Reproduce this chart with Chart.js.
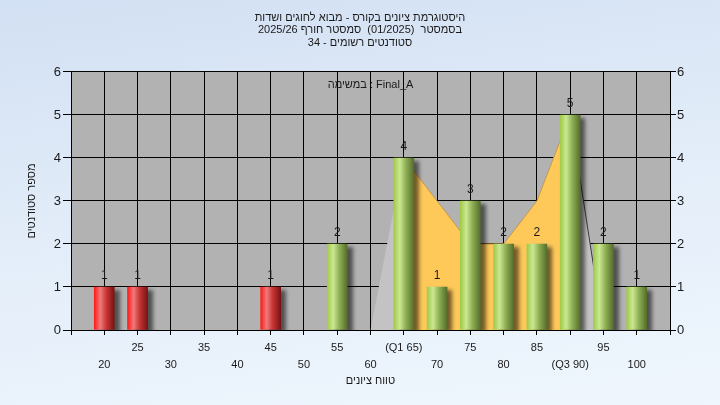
<!DOCTYPE html>
<html lang="he">
<head>
<meta charset="utf-8">
<script src="https://cdn.jsdelivr.net/npm/chart.js@4.4.1/dist/chart.umd.min.js"></script>
<style>
    html, body { margin: 0; padding: 0; }
    body {
        width: 720px; height: 405px; overflow: hidden;
        background: linear-gradient(172deg, #d2e0f3 0%, #e3edf9 50%, #eff6fd 100%);
    }
    canvas { display: block; }
</style>
</head>
<body>
<canvas id="histChart" width="720" height="405"></canvas>
<script>
// נתוני ההיסטוגרמה
const gradeBins = [20, 25, 45, 55, 65, 70, 75, 80, 85, 90, 95, 100];
const studentCounts = [1, 1, 1, 2, 4, 1, 3, 2, 2, 5, 2, 1];
const passGrade = 55;

// שטח הרקע (אפור / כתום בין הרבעונים)
const curveX = [60, 65, 70, 75, 80, 85, 90, 95];
const curveY = [0, 4, 3, 2, 2, 3, 5, 0];
const q1 = 65, q3 = 90;

// צירים ותוויות
const xMin = 15, xMax = 105, xStep = 5;
const yMin = 0, yMax = 6;
const quartileLabels = { 65: '(Q1 65)', 90: '(Q3 90)' };

const titleLines = [
    'היסטוגרמת ציונים בקורס - מבוא לחוגים ושדות',
    'בסמסטר  (01/2025)  סמסטר חורף 2025/26',
    'סטודנטים רשומים - 34'
];
const xTitle = 'טווח ציונים';
const yTitle = 'מספר סטודנטים';
const taskLabel = 'במשימה : Final_A';

const FONT = "'Liberation Sans', Arial, 'DejaVu Sans', sans-serif";
const TEXT = '#1a1a1a';

function barFill(ctx) {
    const chart = ctx.chart;
    const pt = ctx.raw;
    const pass = pt && pt.x >= passGrade;
    if (!chart.chartArea || !pt) return pass ? '#9cc450' : '#e02020';
    const cx = chart.scales.x.getPixelForValue(pt.x);
    const g = chart.ctx.createLinearGradient(cx - 10, 0, cx + 10, 0);
    if (pass) {
        g.addColorStop(0, '#a0ca48');
        g.addColorStop(0.3, '#cbe792');
        g.addColorStop(0.6, '#8fb055');
        g.addColorStop(1, '#566e2c');
    } else {
        g.addColorStop(0, '#ff1a1a');
        g.addColorStop(0.3, '#ef7a7a');
        g.addColorStop(0.6, '#c83636');
        g.addColorStop(1, '#781212');
    }
    return g;
}

const inIqr = c => curveX[c.p0DataIndex] >= q1 && curveX[c.p1DataIndex] <= q3;

const plotBackground = {
    id: 'plotBackground',
    beforeDraw(chart) {
        const { ctx, chartArea: a } = chart;
        ctx.save();
        ctx.fillStyle = '#b2b2b2';
        ctx.fillRect(a.left, a.top, a.right - a.left, a.bottom - a.top);
        ctx.restore();
    }
};

const barShadow = {
    id: 'barShadow',
    beforeDatasetDraw(chart, args) {
        if (args.index !== 0) return;
        const ctx = chart.ctx;
        ctx.save();
        ctx.shadowColor = 'rgba(0,0,0,0.55)';
        ctx.shadowOffsetX = 5;
        ctx.shadowOffsetY = 3;
        ctx.shadowBlur = 4;
    },
    afterDatasetDraw(chart, args) {
        if (args.index !== 0) return;
        chart.ctx.restore();
    }
};

const barLabels = {
    id: 'barLabels',
    afterDatasetsDraw(chart) {
        const ctx = chart.ctx;
        const a = chart.chartArea;
        const meta = chart.getDatasetMeta(0);
        ctx.save();
        ctx.font = '12px ' + FONT;
        ctx.fillStyle = TEXT;
        ctx.textAlign = 'center';
        ctx.textBaseline = 'bottom';
        meta.data.forEach((bar, i) => {
            ctx.fillText(String(studentCounts[i]), bar.x, bar.y - 5);
        });
        // תווית המשימה בראש אזור השרטוט
        ctx.font = '11px ' + FONT;
        ctx.textBaseline = 'middle';
        ctx.fillText(taskLabel, (a.left + a.right) / 2, a.top + 13);
        ctx.restore();
    }
};

new Chart(document.getElementById('histChart'), {
    data: {
        datasets: [
            {
                type: 'bar',
                data: gradeBins.map((g, i) => ({ x: g, y: studentCounts[i] })),
                backgroundColor: barFill,
                borderWidth: 0,
                barThickness: 20,
                yAxisID: 'y',
                order: 1
            },
            {
                type: 'line',
                data: curveX.map((x, i) => ({ x: x, y: curveY[i] })),
                fill: 'origin',
                tension: 0,
                pointRadius: 0,
                borderWidth: 1,
                backgroundColor: '#c3c3c3',
                borderColor: 'rgba(0,0,0,0)',
                segment: {
                    backgroundColor: c => inIqr(c) ? '#ffc95a' : '#c3c3c3',
                    borderColor: c => inIqr(c) ? '#c79a4a'
                        : (curveX[c.p0DataIndex] >= q3 ? '#3a3a3a' : 'rgba(0,0,0,0)')
                },
                yAxisID: 'y',
                order: 2
            }
        ]
    },
    options: {
        responsive: false,
        animation: false,
        devicePixelRatio: 1,
        layout: { padding: 0 },
        plugins: {
            legend: { display: false },
            tooltip: { enabled: false },
            title: {
                display: true,
                text: titleLines,
                color: TEXT,
                font: { family: FONT, size: 11, weight: 'normal', lineHeight: 1.136 },
                padding: { top: 11.25, bottom: 23.25 }
            }
        },
        scales: {
            x: {
                type: 'linear',
                min: xMin,
                max: xMax,
                offset: false,
                afterFit: s => { s.height = 75; },
                ticks: {
                    stepSize: xStep,
                    autoSkip: false,
                    maxRotation: 0,
                    minRotation: 0,
                    padding: 5,
                    color: TEXT,
                    font: { family: FONT, size: 11, lineHeight: 1.5 },
                    callback: v => {
                        if (v <= xMin || v >= xMax) return '';
                        const label = quartileLabels[v] || String(v);
                        return (v / xStep) % 2 === 1 ? [label, ''] : ['', label];
                    }
                },
                grid: { offset: false, color: '#000', lineWidth: 1, tickLength: 5 },
                border: { color: '#000' },
                title: {
                    display: true,
                    text: xTitle,
                    color: TEXT,
                    font: { family: FONT, size: 11 },
                    padding: { top: 0, bottom: 17.5 }
                }
            },
            y: {
                position: 'left',
                min: yMin,
                max: yMax,
                afterFit: s => { s.width = 71; },
                ticks: {
                    stepSize: 1,
                    padding: 2,
                    color: TEXT,
                    font: { family: FONT, size: 13 }
                },
                grid: { color: '#000', lineWidth: 1, tickLength: 8 },
                border: { color: '#000' },
                title: {
                    display: true,
                    text: yTitle,
                    color: TEXT,
                    font: { family: FONT, size: 11 },
                    padding: { top: 25.5, bottom: 0 }
                }
            },
            y2: {
                position: 'right',
                min: yMin,
                max: yMax,
                afterFit: s => { s.width = 50; },
                ticks: {
                    stepSize: 1,
                    padding: 1,
                    color: TEXT,
                    font: { family: FONT, size: 13 }
                },
                grid: { drawOnChartArea: false, color: '#000', tickLength: 6 },
                border: { color: '#000' }
            }
        }
    },
    plugins: [plotBackground, barShadow, barLabels]
});
</script>
</body>
</html>
